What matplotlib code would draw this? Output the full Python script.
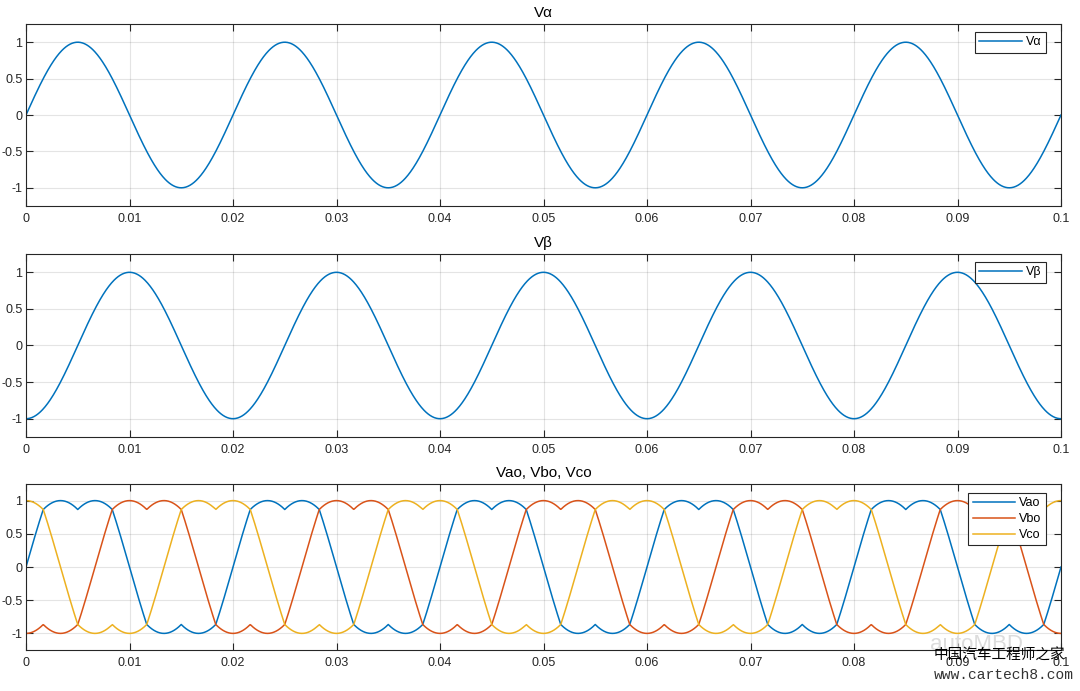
import numpy as np
import matplotlib.pyplot as plt

# signal settings
freq_hz = 50
amp = 1.0
t_end = 0.1
n_pts = 2001
phase_shift_deg = [0, -120, 120]   # Vao, Vbo, Vco
series_names = ['Vao', 'Vbo', 'Vco']
xticks = [0, 0.01, 0.02, 0.03, 0.04, 0.05, 0.06, 0.07, 0.08, 0.09, 0.1]
xticklabels = ['0', '0.01', '0.02', '0.03', '0.04', '0.05', '0.06',
               '0.07', '0.08', '0.09', '0.1']
yticks = [-1, -0.5, 0, 0.5, 1]
yticklabels = ['-1', '-0.5', '0', '0.5', '1']
colors = ['#0072BD', '#D95319', '#EDB120']

t = np.linspace(0, t_end, n_pts)
w = 2 * np.pi * freq_hz
v_alpha = amp * np.sin(w * t)
v_beta = -amp * np.cos(w * t)


def phase_wave(th):
    # piecewise shape of the phase outputs
    s = np.sin(th)
    up = np.maximum(np.sin(th + np.pi / 6), np.sin(th - np.pi / 6))
    dn = np.minimum(np.sin(th + np.pi / 6), np.sin(th - np.pi / 6))
    out = np.sqrt(3) * s
    out = np.where(s > 0.5, up, out)
    out = np.where(s < -0.5, dn, out)
    return amp * out


phases = [phase_wave(w * t + np.deg2rad(p)) for p in phase_shift_deg]

plt.rcParams['font.family'] = ['Liberation Sans', 'DejaVu Sans']

fig = plt.figure(figsize=(10.8, 6.91), dpi=100)
W, H = 1080, 691
boxes = [(26, 24, 1061, 206), (26, 254, 1061, 437), (26, 484, 1061, 650)]
# legend top-right corner offsets (px from axes right / top)
leg_off = [(15, 8), (15, 8), (15, 9)]
axes = []
for (x0, y0, x1, y1) in boxes:
    ax = fig.add_axes([x0 / W, 1 - y1 / H, (x1 - x0) / W, (y1 - y0) / H])
    axes.append(ax)


def style(ax, title):
    ax.set_xlim(0, t_end)
    ax.set_ylim(-1.25, 1.25)
    ax.set_xticks(xticks)
    ax.set_xticklabels(xticklabels)
    ax.set_yticks(yticks)
    ax.set_yticklabels(yticklabels)
    ax.grid(True, color='#262626', alpha=0.12, linewidth=0.8)
    ax.set_axisbelow(True)
    ax.tick_params(direction='in', top=True, right=True, length=5, width=0.8,
                   colors='#262626', labelsize=9)
    ax.tick_params(axis='y', pad=2.5)
    ax.tick_params(axis='x', pad=5)
    for sp in ax.spines.values():
        sp.set_color('#262626')
        sp.set_linewidth(0.8)
    ax.set_title(title, fontsize=11, color='black', pad=5)


axes[0].plot(t, v_alpha, color=colors[0], lw=1.1, label='Vα')
style(axes[0], 'Vα')
axes[1].plot(t, v_beta, color=colors[0], lw=1.1, label='Vβ')
style(axes[1], 'Vβ')
for y, c, name in zip(phases, colors, series_names):
    axes[2].plot(t, y, color=c, lw=1.1, label=name)
style(axes[2], 'Vao, Vbo, Vco')

for ax, (x0, y0, x1, y1), (dx, dy) in zip(axes, boxes, leg_off):
    ax_w, ax_h = x1 - x0, y1 - y0
    leg = ax.legend(loc='upper right',
                    bbox_to_anchor=(1 - dx / ax_w, 1 - dy / ax_h),
                    fontsize=9, fancybox=False, edgecolor='#262626',
                    framealpha=1, borderaxespad=0, handlelength=3.4,
                    handletextpad=0.35, borderpad=0.35, labelspacing=0.3)
    leg.get_frame().set_linewidth(0.8)

# watermark
fig.text(930 / W, 1 - 645 / H, 'autoMBD', fontsize=16, color='#dcdcdc',
         ha='left', va='center', zorder=0)
fig.text(934 / W, 1 - 656 / H, '中国汽车工程师之家', fontsize=10.5,
         family=['Noto Sans CJK SC', 'DejaVu Sans'], color='black',
         ha='left', va='center')
fig.text(934 / W, 1 - 675 / H, 'www.cartech8.com', fontsize=10.5,
         family=['Liberation Mono', 'DejaVu Sans Mono'], color='#333333',
         ha='left', va='center')

fig.savefig('out.png', dpi=100)
